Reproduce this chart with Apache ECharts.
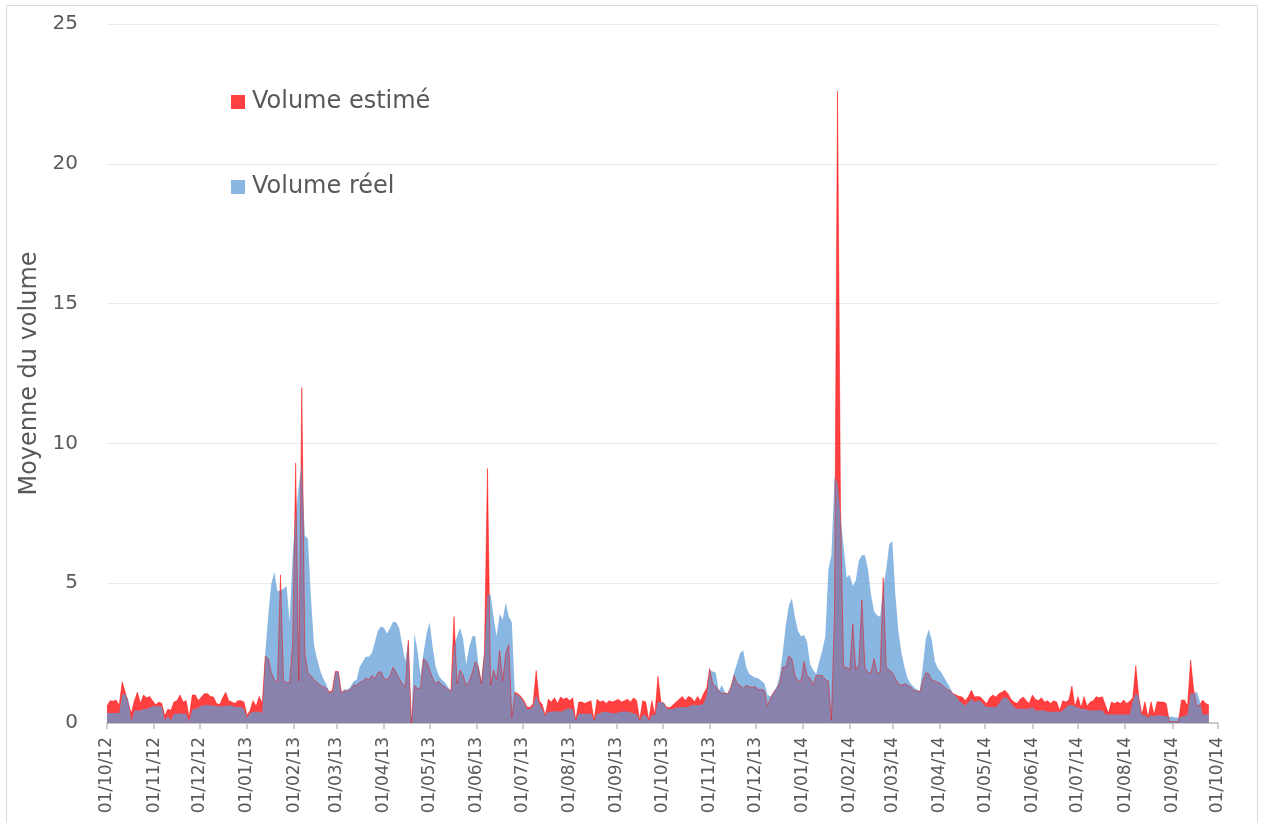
<!DOCTYPE html>
<html>
<head>
<meta charset="utf-8">
<script src="https://cdn.jsdelivr.net/npm/echarts@6/dist/echarts.min.js"></script>
<style>
html,body{margin:0;padding:0;background:#fff;}
#chart{width:1263px;height:823px;}
</style>
</head>
<body>
<div id="chart"></div>
<script>
// Series names
const seriesNames = ['Volume estimé', 'Volume réel'];
// First sample date and sampling step (days)
const startDate = [2012, 9, 1];
const stepDays = 2;
// X tick labels (month starts)
const tickLabels = ['01/10/12','01/11/12','01/12/12','01/01/13','01/02/13','01/03/13','01/04/13','01/05/13','01/06/13','01/07/13','01/08/13','01/09/13','01/10/13','01/11/13','01/12/13','01/01/14','01/02/14','01/03/14','01/04/14','01/05/14','01/06/14','01/07/14','01/08/14','01/09/14','01/10/14'];
// Y ticks
const yTicks = [0, 5, 10, 15, 20, 25];

// Volume estimé (every 2 days from 01/10/12)
const volumeEstime = [
  0.6,0.8,0.78,0.82,0.63,1.47,1.1,0.7,0.35,0.8,
  1.1,0.7,1.0,0.9,0.95,0.8,0.65,0.75,0.7,0.25,
  0.5,0.45,0.75,0.8,1.0,0.75,0.8,0.2,1.0,1.0,
  0.8,0.93,1.05,1.05,0.95,0.93,0.7,0.65,0.9,1.1,
  0.8,0.75,0.7,0.8,0.8,0.75,0.27,0.45,0.8,0.6,
  0.95,0.7,2.4,2.3,1.8,1.55,1.45,5.3,1.5,1.45,
  1.45,2.9,9.3,1.5,12.0,2.5,1.8,1.7,1.55,1.45,
  1.36,1.3,1.25,1.12,1.15,1.84,1.84,1.1,1.15,1.15,
  1.2,1.35,1.36,1.45,1.5,1.6,1.55,1.7,1.6,1.8,
  1.84,1.6,1.54,1.7,2.0,1.8,1.6,1.4,1.3,2.96,
  0,1.35,1.23,1.25,2.3,2.2,1.9,1.6,1.4,1.5,
  1.35,1.3,1.2,1.15,3.8,1.4,1.9,1.7,1.35,1.5,
  1.8,2.2,2.0,1.4,2.5,9.1,1.35,1.9,1.55,2.6,
  1.5,2.5,2.8,0.2,1.1,1.05,0.95,0.8,0.57,0.55,
  0.7,1.88,0.8,0.65,0.27,0.85,0.75,0.9,0.7,0.93,
  0.85,0.9,0.8,0.9,0.1,0.75,0.75,0.7,0.75,0.8,
  0.1,0.85,0.75,0.8,0.7,0.8,0.75,0.8,0.85,0.75,
  0.8,0.85,0.75,0.9,0.8,0.1,0.8,0.75,0.1,0.8,
  0.3,1.67,0.75,0.7,0.55,0.55,0.65,0.75,0.85,0.95,
  0.8,0.95,0.9,0.75,0.95,0.8,1.05,1.24,1.95,1.4,
  1.3,1.15,1.06,1.06,1.05,1.3,1.7,1.42,1.35,1.24,
  1.35,1.3,1.28,1.3,1.2,1.2,1.15,0.6,0.9,1.1,
  1.24,1.4,2.0,2.0,2.4,2.3,1.7,1.5,1.5,2.2,
  1.7,1.6,1.36,1.7,1.7,1.7,1.55,1.5,0.1,4.0,
  22.6,7.5,2.0,2.0,1.9,3.55,1.9,2.1,4.4,2.0,
  1.8,1.8,2.3,1.8,1.8,5.2,2.0,1.9,1.8,1.6,
  1.4,1.35,1.4,1.35,1.3,1.17,1.15,1.1,1.5,1.8,
  1.76,1.53,1.5,1.45,1.4,1.3,1.2,1.15,1.05,1.0,
  0.95,0.93,0.8,0.95,1.17,0.93,0.95,0.93,0.8,0.69,
  0.9,1.0,0.93,1.05,1.1,1.17,1.05,0.85,0.75,0.7,
  0.85,0.93,0.8,0.7,1.0,0.85,0.8,0.9,0.75,0.8,
  0.7,0.8,0.75,0.45,0.8,0.75,0.82,1.32,0.58,0.94,
  0.55,0.94,0.6,0.75,0.8,0.94,0.9,0.94,0.64,0.35,
  0.75,0.7,0.75,0.7,0.82,0.7,0.78,0.9,2.05,0.9,
  0.3,0.76,0.2,0.76,0.3,0.76,0.75,0.75,0.7,0.05,
  0.05,0.05,0.05,0.82,0.82,0.6,2.25,1.2,0.6,0.65,
  0.82,0.7,0.64
];

// Volume réel (every 2 days from 01/10/12)
const volumeReel = [
  0.36,0.36,0.36,0.36,0.36,1.0,1.05,0.85,0.05,0.45,
  0.45,0.45,0.5,0.5,0.55,0.6,0.6,0.6,0.6,0.1,
  0.25,0.1,0.33,0.33,0.35,0.33,0.33,0.05,0.48,0.5,
  0.55,0.63,0.63,0.65,0.63,0.63,0.6,0.6,0.6,0.62,
  0.63,0.63,0.57,0.57,0.57,0.5,0.2,0.35,0.4,0.4,
  0.4,0.35,2.5,3.9,5.0,5.4,4.7,4.75,4.8,4.9,
  3.6,6.0,7.4,8.5,9.3,6.7,6.6,4.5,2.8,2.3,
  1.9,1.6,1.4,1.1,1.1,1.84,1.84,1.1,1.2,1.2,
  1.3,1.48,1.55,2.0,2.2,2.37,2.37,2.5,2.9,3.3,
  3.45,3.4,3.2,3.4,3.62,3.6,3.4,2.8,2.2,2.96,
  0,3.2,2.6,1.7,2.5,3.2,3.6,2.7,2.0,1.7,
  1.55,1.45,1.3,1.15,2.75,3.1,3.4,3.0,2.1,2.7,
  3.1,3.1,2.1,1.5,2.6,4.6,4.6,3.8,3.1,3.9,
  3.7,4.3,3.8,3.6,1.05,1.0,0.9,0.75,0.5,0.5,
  0.6,1.0,0.7,0.5,0.27,0.4,0.4,0.42,0.42,0.4,
  0.45,0.5,0.52,0.5,0.1,0.33,0.33,0.33,0.33,0.35,
  0.1,0.33,0.35,0.4,0.4,0.38,0.35,0.35,0.38,0.4,
  0.42,0.4,0.38,0.35,0.3,0.1,0.28,0.28,0.1,0.28,
  0.3,0.75,0.75,0.72,0.5,0.5,0.5,0.55,0.55,0.57,
  0.57,0.57,0.64,0.64,0.64,0.64,0.7,1.0,1.9,1.84,
  1.8,1.15,1.36,1.1,1.06,1.3,1.8,2.13,2.5,2.6,
  2.0,1.75,1.68,1.62,1.6,1.5,1.42,1.0,0.95,1.1,
  1.3,1.7,2.5,3.5,4.2,4.45,3.8,3.3,3.1,3.15,
  2.9,2.1,1.9,1.75,2.2,2.6,3.1,5.5,6.0,8.8,
  8.6,7.4,6.3,5.2,5.3,4.9,5.1,5.8,6.0,6.0,
  5.5,4.6,4.0,3.85,3.8,4.8,5.5,6.4,6.5,4.6,
  3.3,2.5,2.0,1.6,1.4,1.3,1.2,1.15,2.0,3.0,
  3.35,2.95,2.2,1.95,1.82,1.64,1.45,1.25,1.05,0.95,
  0.8,0.7,0.63,0.75,0.87,0.75,0.8,0.8,0.65,0.57,
  0.57,0.57,0.57,0.69,0.85,0.93,0.87,0.7,0.57,0.51,
  0.51,0.51,0.51,0.51,0.57,0.45,0.45,0.45,0.45,0.4,
  0.4,0.4,0.4,0.4,0.45,0.55,0.64,0.64,0.6,0.55,
  0.5,0.5,0.47,0.45,0.45,0.46,0.46,0.46,0.3,0.3,
  0.3,0.3,0.3,0.3,0.3,0.3,0.3,0.8,1.06,0.94,
  0.3,0.28,0.2,0.28,0.25,0.28,0.28,0.25,0.25,0.22,
  0.22,0.2,0.2,0.22,0.25,0.3,1.06,1.06,1.12,0.8,
  0.3,0.3,0.3
];

const DAY = 86400000;
const t0 = new Date(startDate[0], startDate[1], startDate[2]).getTime();
function parseLabel(s) {
  const p = s.split('/').map(Number);
  return Math.round((new Date(2000 + p[2], p[1] - 1, p[0]).getTime() - t0) / DAY);
}
const tickDays = tickLabels.map(parseLabel);
const labelByDay = {};
tickLabels.forEach(function (s, i) { labelByDay[tickDays[i]] = s; });

function toPairs(values) {
  return values.map(function (v, i) { return [i * stepDays, v]; });
}

const FONT = 'DejaVu Sans';
const TXT = '#595959';

const chart = echarts.init(document.getElementById('chart'), null, { renderer: 'canvas' });
chart.setOption({
  animation: false,
  backgroundColor: '#ffffff',
  graphic: [{
    type: 'rect',
    shape: { x: 6.5, y: 5.5, width: 1251, height: 840 },
    style: { fill: 'none', stroke: '#D9D9D9', lineWidth: 1 },
    silent: true
  }],
  grid: { left: 107, right: 45, top: 24, bottom: 100, containLabel: false },
  legend: {
    orient: 'vertical',
    left: 226,
    top: 85,
    itemGap: 61,
    itemWidth: 14,
    itemHeight: 14,
    icon: 'rect',
    data: seriesNames,
    textStyle: { fontFamily: FONT, fontSize: 24, color: TXT, padding: [0, 0, 0, 2] }
  },
  xAxis: {
    type: 'value',
    min: tickDays[0],
    max: tickDays[tickDays.length - 1],
    axisLine: { show: true, lineStyle: { color: '#BFBFBF', width: 1.5 } },
    axisTick: { show: true, customValues: tickDays, length: 6, lineStyle: { color: '#BFBFBF', width: 1.5 } },
    axisLabel: {
      customValues: tickDays,
      rotate: 90,
      margin: 14,
      fontFamily: FONT,
      fontSize: 17,
      color: TXT,
      showMinLabel: true,
      showMaxLabel: true,
      formatter: function (v) { return labelByDay[v] || ''; }
    },
    splitLine: { show: false }
  },
  yAxis: {
    type: 'value',
    min: yTicks[0],
    max: yTicks[yTicks.length - 1],
    interval: 5,
    name: 'Moyenne du volume',
    nameLocation: 'middle',
    nameRotate: 90,
    nameGap: 57,
    nameTextStyle: { fontFamily: FONT, fontSize: 24, color: TXT },
    axisLine: { show: false },
    axisTick: { show: false },
    axisLabel: { margin: 29, fontFamily: FONT, fontSize: 20, color: TXT },
    splitLine: { show: true, lineStyle: { color: '#EBEBEB', width: 1 } }
  },
  series: [
    {
      name: seriesNames[0],
      type: 'line',
      data: toPairs(volumeEstime),
      showSymbol: false,
      symbol: 'none',
      smooth: false,
      itemStyle: { color: 'rgba(255,0,0,0.75)' },
      lineStyle: { color: 'rgba(255,0,0,0.45)', width: 1 },
      areaStyle: { color: 'rgba(255,0,0,0.75)', opacity: 1 }
    },
    {
      name: seriesNames[1],
      type: 'line',
      data: toPairs(volumeReel),
      showSymbol: false,
      symbol: 'none',
      smooth: false,
      itemStyle: { color: 'rgba(91,155,213,0.72)' },
      lineStyle: { width: 0 },
      areaStyle: { color: 'rgba(91,155,213,0.72)', opacity: 1 }
    }
  ]
});
</script>
</body>
</html>
